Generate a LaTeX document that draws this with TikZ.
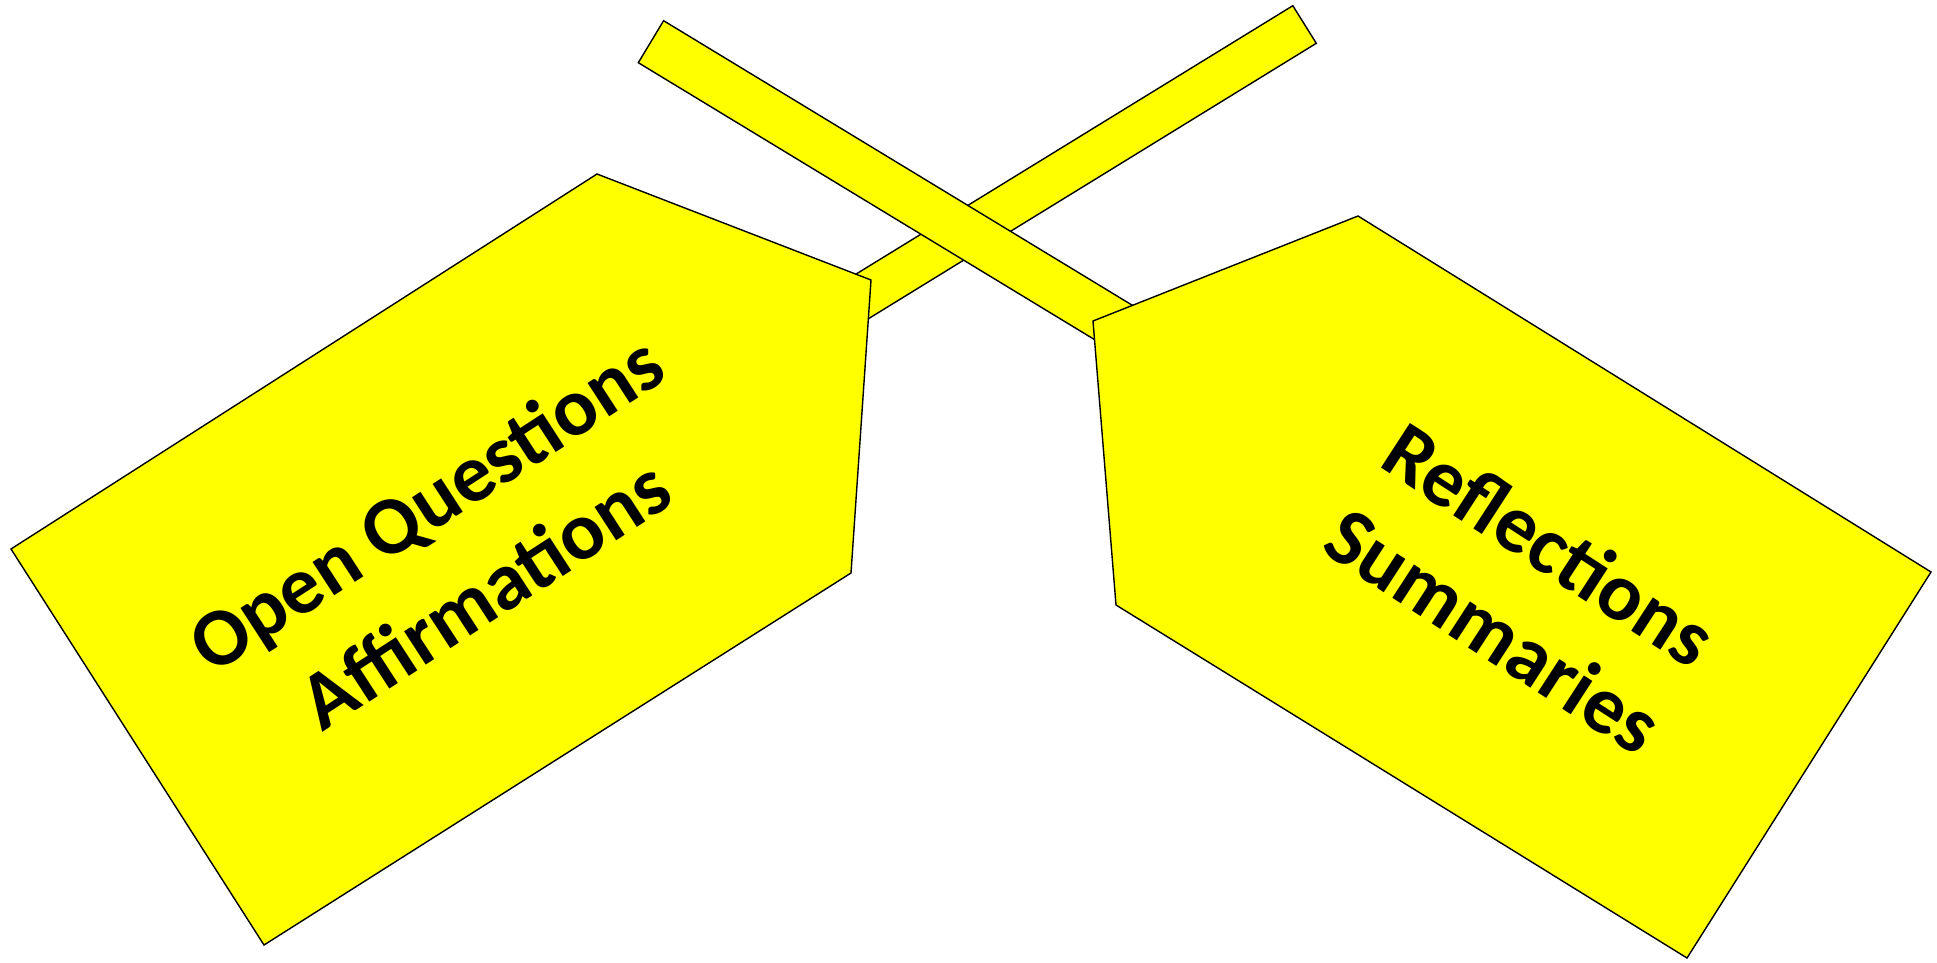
\documentclass[tikz,border=0pt]{standalone}
\usepackage{fontspec}
\setmainfont{Carlito}
\definecolor{padyellow}{RGB}{255,255,0}
\begin{document}
\begin{tikzpicture}[x=1pt,y=-1pt,
  shapeyellow/.style={fill=padyellow,draw=black,line width=1.4pt,line join=miter},
  labeltext/.style={align=center,inner sep=0pt,text=black}]
\useasboundingbox (0,0) rectangle (1937,963);
\fill[white] (0,0) rectangle (1937,963);
% left pentagon vertices
\coordinate (L1) at (11,549);
\coordinate (L2) at (597,174);
\coordinate (L3) at (871,280);
\coordinate (L4) at (851,573);
\coordinate (L5) at (264,945);
% right pentagon vertices
\coordinate (R1) at (1093,321);
\coordinate (R2) at (1358,216);
\coordinate (R3) at (1931,572);
\coordinate (R4) at (1687,958);
\coordinate (R5) at (1116,605);
% bar 2 (top right to lower left)
\coordinate (B2a) at (1292.8,5.7);
\coordinate (B2b) at (1316.3,43.3);
\coordinate (B2c) at (762.6,383.8);
\coordinate (B2d) at (739,346);
% bar 1 (top left to lower right)
\coordinate (B1a) at (663.6,20.7);
\coordinate (B1b) at (1262,384);
\coordinate (B1c) at (1236.7,425.9);
\coordinate (B1d) at (638.3,62.7);
\draw[shapeyellow] (B2a) -- (B2b) -- (B2c) -- (B2d) -- cycle;
\draw[shapeyellow] (B1a) -- (B1b) -- (B1c) -- (B1d) -- cycle;
\draw[shapeyellow] (L1) -- (L2) -- (L3) -- (L4) -- (L5) -- cycle;
\draw[shapeyellow] (R1) -- (R2) -- (R3) -- (R4) -- (R5) -- cycle;
\node[labeltext,rotate=33,font=\bfseries\fontsize{82}{108}\selectfont] (lefttext) at (455,548) {Open Questions\\Affirmations};
\node[labeltext,rotate=-33,font=\bfseries\fontsize{82}{103}\selectfont] (righttext) at (1522,587) {Reflections\\Summaries};
\end{tikzpicture}
\end{document}
